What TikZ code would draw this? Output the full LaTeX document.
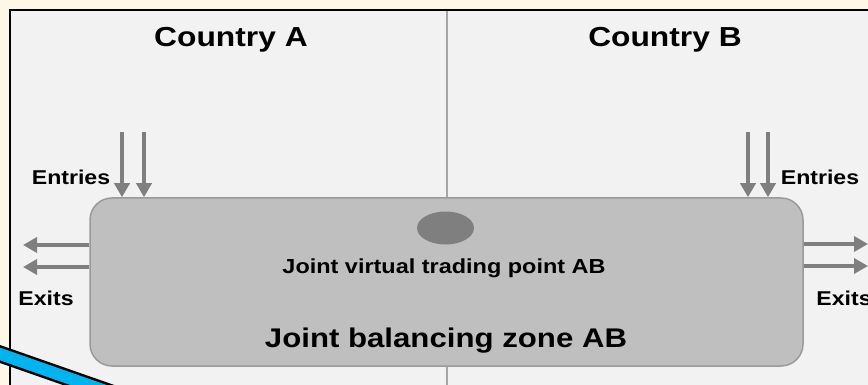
\documentclass[tikz,border=0pt]{standalone}
\usepackage{fontspec}
\setmainfont{Liberation Sans}
\usetikzlibrary{arrows.meta,shapes.geometric}
\definecolor{cream}{HTML}{FCF7E6}
\definecolor{panel}{HTML}{F2F2F2}
\definecolor{zonefill}{HTML}{BFBFBF}
\definecolor{zoneedge}{HTML}{9A9A9A}
\definecolor{flowgray}{HTML}{7F7F7F}
\definecolor{divider}{HTML}{A6A6A6}
\definecolor{pointer}{HTML}{00B4F0}
% wide bold label: text stretched horizontally
\newcommand{\widelabel}[2]{\scalebox{1.155}[1]{\fontsize{#1}{#1}\selectfont\bfseries #2}}
\tikzset{
  flow/.style={draw=flowgray, line width=4pt,
    -{Triangle[width=15pt,length=14pt]}},
  lbl/.style={inner sep=0pt, text=black},
}
\begin{document}
\begin{tikzpicture}[x=1pt,y=-1pt]
  \useasboundingbox (0,0) rectangle (868,385);
  \clip (0,0) rectangle (868,385);
  % page background and framed panel
  \fill[cream] (0,0) rectangle (868,385);
  \filldraw[fill=panel, draw=black, line width=2pt] (10,10) rectangle (890,400);
  % border between the two countries
  \draw[divider, line width=2pt] (447,11) -- (447,390);
  % country headings
  \node[lbl] (ctyA) at (231,40) {\widelabel{27.5}{Country A}};
  \node[lbl] (ctyB) at (665,40) {\widelabel{27.5}{Country B}};
  % joint balancing zone
  \node[draw=zoneedge, fill=zonefill, line width=1.5pt, rounded corners=22pt,
        minimum width=713pt, minimum height=168pt, inner sep=0pt]
        (zone) at (446.5,282) {};
  \node[ellipse, fill=flowgray, minimum width=57pt, minimum height=33pt,
        inner sep=0pt] (vtp) at (445.5,228) {};
  \node[lbl] (vtplbl) at (444,268) {\widelabel{20.3}{Joint virtual trading point AB}};
  \node[lbl] (zonelbl) at (446,341) {\widelabel{27}{Joint balancing zone AB}};
  % entry and exit flows, country A
  \coordinate (inA1) at (122,132);
  \coordinate (inA2) at (144,132);
  \draw[flow] (inA1) -- (inA1 |- zone.north);
  \draw[flow] (inA2) -- (inA2 |- zone.north);
  \coordinate (outA1) at (23,245);
  \coordinate (outA2) at (23,267);
  \draw[flow] (outA1 -| zone.west) -- (outA1);
  \draw[flow] (outA2 -| zone.west) -- (outA2);
  \node[lbl] (entA) at (71,177) {\widelabel{20}{Entries}};
  \node[lbl] (exA) at (46,298) {\widelabel{20}{Exits}};
  % entry and exit flows, country B
  \coordinate (inB1) at (748,132);
  \coordinate (inB2) at (768,132);
  \draw[flow] (inB1) -- (inB1 |- zone.north);
  \draw[flow] (inB2) -- (inB2 |- zone.north);
  \coordinate (outB1) at (868,244);
  \coordinate (outB2) at (868,266);
  \draw[flow] (outB1 -| zone.east) -- (outB1);
  \draw[flow] (outB2 -| zone.east) -- (outB2);
  \node[lbl] (entB) at (820,177) {\widelabel{20}{Entries}};
  \node[lbl] (exB) at (844,298) {\widelabel{20}{Exits}};
  % blue pointer stroke entering at the lower left
  \coordinate (ptrA) at (-10,350.5);
  \coordinate (ptrB) at (140,403);
  \draw[black, line width=17pt] (ptrA) -- (ptrB);
  \draw[pointer, line width=12pt] (ptrA) -- (ptrB);
\end{tikzpicture}
\end{document}
